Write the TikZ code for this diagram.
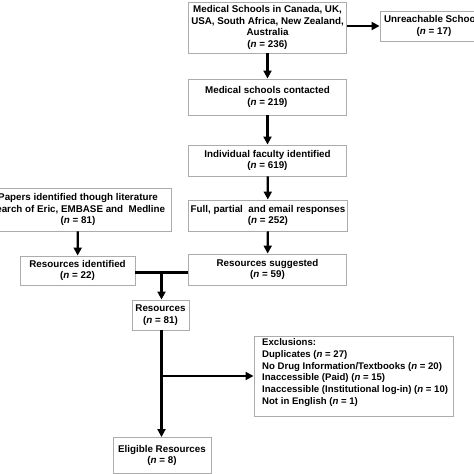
\documentclass[tikz,border=0pt]{standalone}
\usepackage{fontspec}
\setmainfont{Liberation Sans}
\usetikzlibrary{arrows.meta}
\begin{document}
\begin{tikzpicture}[x=1pt,y=-1pt,
  box/.style={draw=gray!65, line width=0.9pt, fill=white, align=center,
    font=\bfseries\fontsize{9.8}{11.6}\selectfont, inner sep=0pt},
  txt/.style={align=left, font=\bfseries\fontsize{9.6}{11.8}\selectfont, inner sep=0pt},
  arr/.style={-{Triangle[width=8pt,length=8pt]}, line width=2.2pt},
  ln/.style={line width=2.2pt}]
\useasboundingbox (0,0) rectangle (474,474);
\clip (0,0) rectangle (474,474);
\fill[white] (0,0) rectangle (474,474);
\node[box, minimum width=158pt, minimum height=51pt] (ms) at (267.5,27.5)
  {Medical Schools in Canada, UK,\\USA, South Africa, New Zealand,\\Australia\\(\textit{n} = 236)};
\node[box, minimum width=108pt, minimum height=30pt] (ur) at (434,26)
  {Unreachable Schools\\(\textit{n} = 17)};
\node[box, minimum width=158pt, minimum height=36pt] (mc) at (267.5,97)
  {Medical schools contacted\\(\textit{n} = 219)};
\node[box, minimum width=158pt, minimum height=31pt] (fi) at (267.5,160.5)
  {Individual faculty identified\\(\textit{n} = 619)};
\node[box, minimum width=159pt, minimum height=31pt] (fp) at (268,215.5)
  {Full, partial\ \ and email responses\\(\textit{n} = 252)};
\node[box, minimum width=186pt, minimum height=43pt] (pp) at (78,209.5)
  {Papers identified though literature\\search of Eric, EMBASE and\ \ Medline\\(\textit{n} = 81)};
\node[box, minimum width=115pt, minimum height=29pt] (ri) at (77.5,270.5)
  {Resources identified\\(\textit{n} = 22)};
\node[box, minimum width=158pt, minimum height=31pt] (rs) at (267.5,269.5)
  {Resources suggested\\(\textit{n} = 59)};
\node[box, minimum width=57pt, minimum height=30pt] (res) at (160.5,315)
  {Resources\\(\textit{n} = 81)};
\node[box, minimum width=199pt, minimum height=80pt] (ex) at (353.5,376) {};
\node[txt, anchor=west] (ext) at (262,372.5)
  {Exclusions:\\Duplicates (\textit{n} = 27)\\No Drug Information/Textbooks (\textit{n} = 20)\\Inaccessible (Paid) (\textit{n} = 15)\\Inaccessible (Institutional log-in) (\textit{n} = 10)\\Not in English (\textit{n} = 1)};
\node[box, minimum width=98pt, minimum height=36pt] (el) at (162,455.5)
  {Eligible Resources\\(\textit{n} = 8)};
\draw[arr] (ms.east |- ur.west) -- (ur.west);
\draw[arr] (ms) -- (mc);
\draw[arr] (mc) -- (fi);
\draw[arr] (fi) -- (fp);
\draw[arr] (fp) -- (rs);
\draw[arr] (pp) -- (ri);
\coordinate (j) at (161.5,272.5);
\draw[ln] (ri.east |- j) -- (rs.west |- j);
\draw[arr] (j) -- (res.north -| j);
\draw[arr] (res.south -| j) -- (el.north -| j);
\coordinate (k) at (161.5,376);
\draw[arr] (k) -- (ex.west |- k);
\end{tikzpicture}
\end{document}
